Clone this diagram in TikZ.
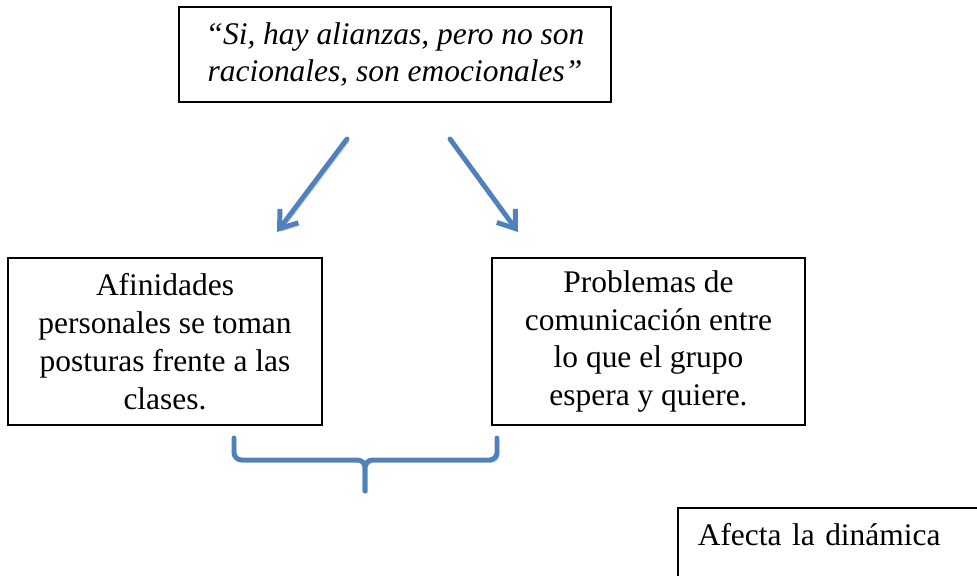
\documentclass[tikz,border=0pt]{standalone}
\usepackage{fontspec}
\setmainfont{Liberation Serif}
\usetikzlibrary{arrows.meta, positioning}
\definecolor{flechaAzul}{RGB}{79, 129, 189}
\definecolor{sombraGris}{RGB}{200, 200, 200}

\begin{document}
\begin{tikzpicture}[
        x=0.02cm, y=-0.02cm,
        caja/.style={rectangle, draw=black, line width=0.9pt, align=center, inner sep=0pt, font=\fontsize{17.9}{21.6}\selectfont},
        sombra/.style={preaction={draw=sombraGris, transform canvas={shift={(0.04cm,-0.05cm)}}}},
        flecha/.style={draw=flechaAzul, line width=2.8pt, line cap=round, -{Straight Barb[length=0.32cm, width=0.46cm]}, sombra},
        llave/.style={draw=flechaAzul, line width=2.8pt, line cap=round, rounded corners=0.15cm, sombra}
    ]
        \useasboundingbox (0,0) rectangle (977,575);
        \clip (0,0) rectangle (977,575);

        % Cita principal
        \node[caja, minimum width=8.64cm, minimum height=1.9cm, font=\fontsize{17.9}{21.6}\selectfont\itshape] (cita) at (395,54.5) {“Si, hay alianzas, pero no son\\racionales, son emocionales”};

        % Consecuencias
        \node[caja, minimum width=6.28cm, minimum height=3.34cm] (afinidades) at (165,341.5) {Afinidades\\personales se toman\\posturas frente a las\\clases.};
        \node[caja, minimum width=6.26cm, minimum height=3.34cm] (problemas) at (648.5,341.5) {Problemas de\\comunicación entre\\lo que el grupo\\espera y quiere.};

        % Efecto (cortado en el borde)
        \node[caja, anchor=north west, align=left, text width=7cm, inner xsep=0.4cm, inner ysep=0pt, text height=0.76cm, text depth=2cm] (efecto) at (677,507) {Afecta la dinámica};

        % Flechas
        \coordinate (citaIzq) at (347,139);
        \coordinate (citaDer) at (450,139);
        \coordinate (afinidadesTop) at (277,232);
        \coordinate (problemasTop) at (518,232);
        \draw[flecha] (citaIzq) -- (afinidadesTop);
        \draw[flecha] (citaDer) -- (problemasTop);

        % Llave que une ambas cajas
        \coordinate (llaveIzq) at (234,438);
        \coordinate (llaveDer) at (497,438);
        \coordinate (llavePico) at (365,491);
        \draw[llave] (llaveIzq) -- ++(0,22) -| (llavePico);
        \draw[llave] (llaveDer) -- ++(0,22) -| (llavePico);
    \end{tikzpicture}
\end{document}
